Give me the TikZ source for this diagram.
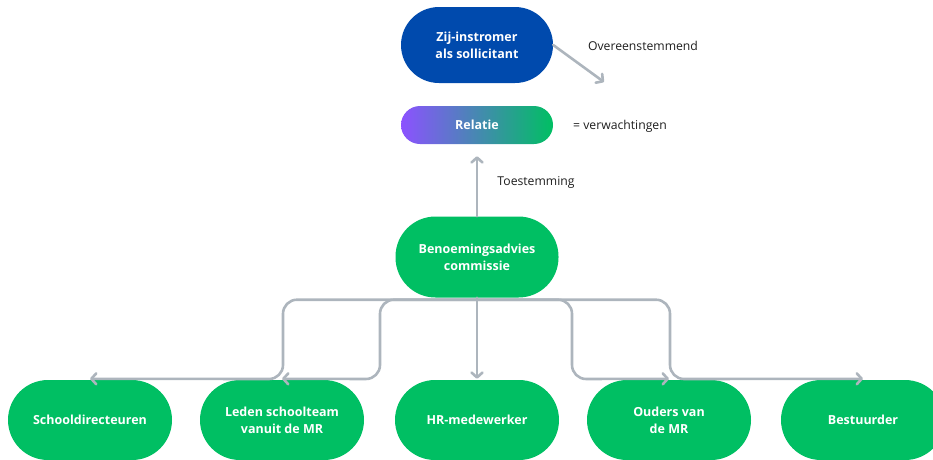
\documentclass[tikz,border=0pt]{standalone}
\usepackage{fontspec}
\setmainfont{Open Sans}
\usetikzlibrary{arrows.meta}
\definecolor{grn}{HTML}{00BF63}
\definecolor{blu}{HTML}{004AAD}
\definecolor{prp}{HTML}{8C52FF}
\definecolor{gry}{HTML}{ADB5BD}
\definecolor{txt}{HTML}{1E1E1E}
\begin{document}
\begin{tikzpicture}[x=1pt,y=-1pt,
  pill/.style={rectangle, inner sep=0pt, text=white, align=center,
    font=\bfseries\fontsize{12.5}{17}\selectfont},
  gnode/.style={pill, fill=grn, rounded corners=40pt, minimum width=164pt, minimum height=80pt},
  topn/.style={pill, fill=blu, rounded corners=38pt, minimum width=152pt, minimum height=76pt},
  reln/.style={pill, left color=prp, right color=grn, rounded corners=19pt, minimum width=152pt, minimum height=38pt},
  lbl/.style={font=\fontsize{12.2}{14}\selectfont, text=txt, inner sep=0pt},
  conn/.style={draw=gry, line width=2.6pt, line cap=round, line join=round,
    -{Straight Barb[length=5pt,width=11pt,round]}}
]
\path[use as bounding box, clip] (0,0) rectangle (933,459);

\node[topn] (zij) at (477,45) {Zij-instromer\\als sollicitant};
\node[reln] (rel) at (477,125) {Relatie};
\node[gnode, minimum width=163pt, minimum height=81pt] (ben) at (477,257) {Benoemingsadvies\\commissie};
\node[gnode] (sd) at (90,420) {Schooldirecteuren};
\node[gnode] (ld) at (282,420) {Leden schoolteam\\vanuit de MR};
\node[gnode] (hr) at (477,420) {HR-medewerker};
\node[gnode] (om) at (669,420) {Ouders van\\de MR};
\node[gnode] (bs) at (863,420) {Bestuurder};

\node[lbl] (lo) at (643,46) {Overeenstemmend};
\node[lbl] (lv) at (620,126) {= verwachtingen};
\node[lbl] (lt) at (536,182) {Toestemming};

\coordinate (oe) at (604,82);
\coordinate (k1) at (283,379);
\coordinate (k2) at (380,379);
\coordinate (k3) at (572,379);
\coordinate (k4) at (670,379);

\draw[conn] (zij.east) -- (oe);
\draw[conn, shorten >=12pt] (ben.north) -- (rel.south);
\draw[conn, rounded corners=14pt] ([yshift=-2pt]ben.south) -| (k1) -- ([yshift=1pt]sd.north);
\draw[conn, rounded corners=14pt] ([yshift=-2pt]ben.south) -| (k2) -- ([yshift=1pt]ld.north);
\draw[conn] (ben.south) -- ([yshift=1pt]hr.north);
\draw[conn, rounded corners=14pt] ([yshift=-2pt]ben.south) -| (k3) -- ([yshift=1pt]om.north);
\draw[conn, rounded corners=14pt] ([yshift=-2pt]ben.south) -| (k4) -- ([yshift=1pt]bs.north);
\end{tikzpicture}
\end{document}
